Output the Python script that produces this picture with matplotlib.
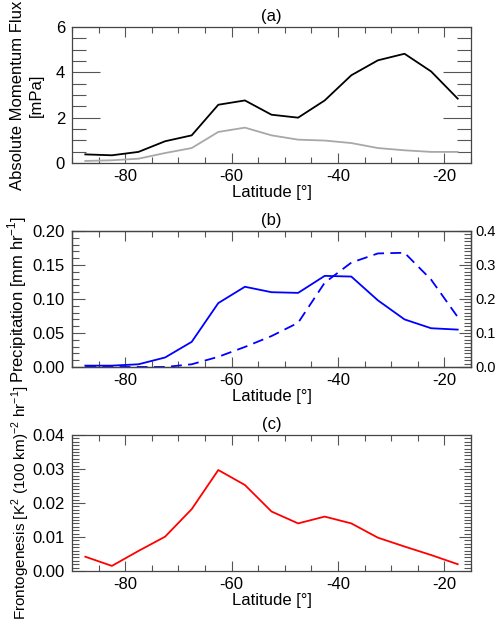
import numpy as np
import matplotlib
matplotlib.use('Agg')
import matplotlib.pyplot as plt
from matplotlib.ticker import MultipleLocator

plt.rcParams['font.family'] = ['Liberation Sans', 'DejaVu Sans']
plt.rcParams['mathtext.fontset'] = 'custom'
plt.rcParams['mathtext.rm'] = 'Liberation Sans'

lat = [-87.5, -82.5, -77.5, -72.5, -67.5, -62.5, -57.5, -52.5,
       -47.5, -42.5, -37.5, -32.5, -27.5, -22.5, -17.5]

# (a) absolute momentum flux [mPa]
amf_total = [0.38, 0.34, 0.49, 0.96, 1.22, 2.57, 2.76, 2.13,
             2.00, 2.76, 3.87, 4.53, 4.82, 4.04, 2.84]
amf_part = [0.09, 0.12, 0.19, 0.44, 0.66, 1.37, 1.56, 1.22,
            1.03, 0.99, 0.88, 0.66, 0.56, 0.49, 0.49]

# (b) precipitation, solid on left axis, dashed on right axis
precip = [0.002, 0.002, 0.004, 0.014, 0.037, 0.094, 0.118, 0.110,
          0.109, 0.134, 0.133, 0.098, 0.070, 0.057, 0.055]
precip2 = [0.0, 0.0, 0.0, 0.0, 0.008, 0.030, 0.059, 0.091,
           0.130, 0.248, 0.307, 0.334, 0.336, 0.257, 0.147]

# (c) frontogenesis
frontog = [0.0042, 0.0015, 0.0059, 0.0101, 0.0182, 0.0297, 0.0253, 0.0175,
           0.0140, 0.0160, 0.0140, 0.0098, 0.0072, 0.0047, 0.0020]

fig = plt.figure(figsize=(4.97, 6.22), dpi=100)
W, H = 497.0, 622.0
left, width, height = 72 / W, 399 / W, 136 / H
ax1 = fig.add_axes([left, 1 - 163 / H, width, height])
ax2 = fig.add_axes([left, 1 - 367 / H, width, height])
ax3 = fig.add_axes([left, 1 - 571 / H, width, height])

tickc = '#555555'
fs_lab = 12
fs_tick = 12


def style_x(ax):
    ax.set_xlim(-90, -15)
    ax.xaxis.set_minor_locator(MultipleLocator(5))
    ax.set_xticks([-80, -60, -40, -20])
    ax.set_xticklabels(['-80', '-60', '-40', '-20'])
    ax.set_xlabel('Latitude [°]', fontsize=fs_lab, labelpad=1)
    ax.tick_params(axis='x', which='both', direction='in', top=True,
                   color=tickc, labelsize=fs_tick, pad=4)
    ax.tick_params(axis='x', which='major', length=7, width=0.8)
    ax.tick_params(axis='x', which='minor', length=4, width=0.8)
    for s in ax.spines.values():
        s.set_color('#444444')
        s.set_linewidth(0.9)


# panel (a)
ax1.plot(lat, amf_total, color='black', lw=1.3)
ax1.plot(lat, amf_part, color='#a8a8a8', lw=1.3)
ax1.set_ylim(0, 6)
ax1.yaxis.set_major_locator(MultipleLocator(2))
ax1.yaxis.set_minor_locator(MultipleLocator(0.5))
ax1.tick_params(axis='y', which='both', direction='in', right=True,
                color=tickc, labelsize=fs_tick, pad=5)
ax1.tick_params(axis='y', which='major', length=20, width=0.8)
ax1.tick_params(axis='y', which='minor', length=10, width=0.8)
ax1.set_ylabel('Absolute Momentum Flux\n[mPa]', fontsize=fs_lab,
               linespacing=1.3)
ax1.yaxis.set_label_coords(-0.07, 0.5)
ax1.set_title('(a)', fontsize=fs_lab, pad=4)
style_x(ax1)

# panel (b)
ax2.plot(lat, precip, color='blue', lw=1.3)
ax2.set_ylim(0, 0.2)
ax2.set_yticks([0, 0.05, 0.10, 0.15, 0.20])
ax2.set_yticklabels(['0.00', '0.05', '0.10', '0.15', '0.20'])
ax2.yaxis.set_minor_locator(MultipleLocator(0.01))
ax2.tick_params(axis='y', which='both', direction='in', color=tickc,
                labelsize=fs_tick, pad=5)
ax2.tick_params(axis='y', which='major', length=9, width=0.8)
ax2.tick_params(axis='y', which='minor', length=5, width=0.8)
ax2.set_ylabel(r'Precipitation [mm hr$^{\mathregular{-1}}$]', fontsize=fs_lab)
ax2.yaxis.set_label_coords(-0.108, 0.5)
ax2.set_title('(b)', fontsize=fs_lab, pad=4)
style_x(ax2)

ax2r = ax2.twinx()
ax2r.plot(lat, precip2, color='blue', lw=1.3, ls=(0, (6, 3.5)))
ax2r.set_ylim(0, 0.4)
ax2r.set_yticks([0, 0.1, 0.2, 0.3, 0.4])
ax2r.set_yticklabels(['0.0', '0.1', '0.2', '0.3', '0.4'])
ax2r.yaxis.set_minor_locator(MultipleLocator(0.01))
ax2r.tick_params(axis='y', which='both', direction='in', color=tickc,
                 labelsize=10.5)
ax2r.tick_params(axis='y', which='major', length=9, width=0.8)
ax2r.tick_params(axis='y', which='minor', length=5, width=0.8)
ax2r.set_xlim(-90, -15)
for s in ax2r.spines.values():
    s.set_color('#444444')
    s.set_linewidth(0.9)

# panel (c)
ax3.plot(lat, frontog, color='red', lw=1.3)
ax3.set_ylim(0, 0.04)
ax3.set_yticks([0, 0.01, 0.02, 0.03, 0.04])
ax3.set_yticklabels(['0.00', '0.01', '0.02', '0.03', '0.04'])
ax3.yaxis.set_minor_locator(MultipleLocator(0.001))
ax3.tick_params(axis='y', which='both', direction='in', right=True,
                color=tickc, labelsize=fs_tick, pad=5)
ax3.tick_params(axis='y', which='major', length=9, width=0.8)
ax3.tick_params(axis='y', which='minor', length=5, width=0.8)
ax3.set_ylabel(r'Frontogenesis [K$^{\mathregular{2}}$ (100 km)$^{\mathregular{-2}}$ hr$^{\mathregular{-1}}$]',
               fontsize=11)
ax3.yaxis.set_label_coords(-0.10, 0.5)
ax3.set_title('(c)', fontsize=fs_lab, pad=4)
style_x(ax3)

fig.savefig('out.png', dpi=100)
